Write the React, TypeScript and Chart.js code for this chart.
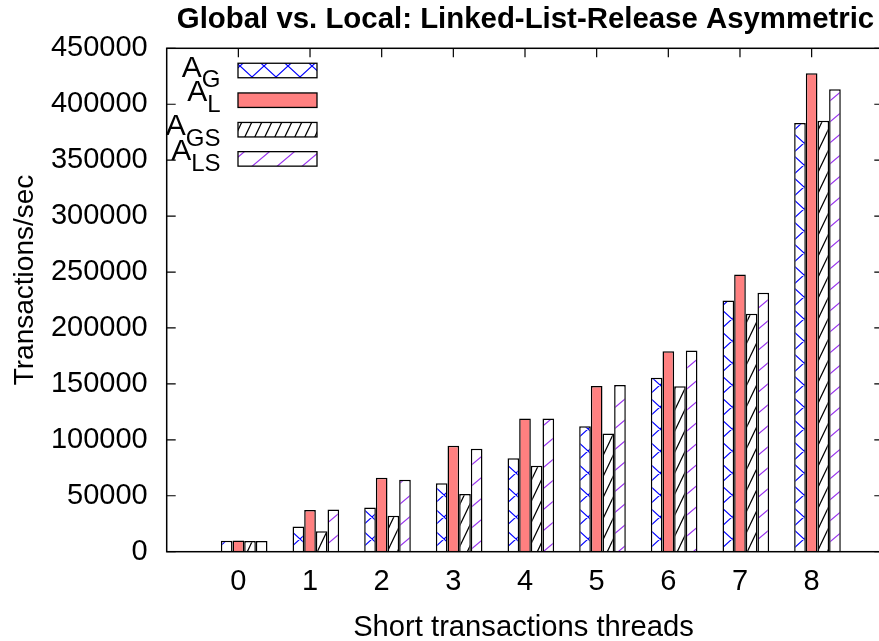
import React, { useEffect, useRef } from "react";
import { Chart, registerables } from "chart.js";

Chart.register(...registerables);

// ---- data ----
const threadLabels = ["0", "1", "2", "3", "4", "5", "6", "7", "8"];
const valuesAG = [9800, 22600, 39600, 61100, 83500, 112100, 155400, 224500, 383200];
const valuesAL = [10000, 37300, 66200, 94800, 119000, 148200, 179200, 247800, 427600];
const valuesAGS = [9500, 18200, 32200, 51600, 76900, 105600, 147900, 212600, 385300];
const valuesALS = [9500, 37800, 64400, 92100, 119000, 149100, 179800, 231400, 413300];
const yTickValues = [0, 50000, 100000, 150000, 200000, 250000, 300000, 350000, 400000, 450000];
const legendMain = ["A", "A", "A", "A"];
const legendSub = ["G", "L", "GS", "LS"];

const TITLE = "Global vs. Local: Linked-List-Release Asymmetric";
const X_TITLE = "Short transactions threads";
const Y_TITLE = "Transactions/sec";
const FONT = "'Liberation Sans', Arial, Helvetica, sans-serif";

function makeTile(w: number, h: number, color: string, lines: number[][]) {
  const c = document.createElement("canvas");
  c.width = w;
  c.height = h;
  const g = c.getContext("2d")!;
  g.fillStyle = "#ffffff";
  g.fillRect(0, 0, w, h);
  g.strokeStyle = color;
  g.lineWidth = 1.2;
  g.beginPath();
  for (const [x1, y1, x2, y2] of lines) {
    for (const dx of [-w, 0, w]) {
      for (const dy of [-h, 0, h]) {
        g.moveTo(x1 + dx, y1 + dy);
        g.lineTo(x2 + dx, y2 + dy);
      }
    }
  }
  g.stroke();
  return c;
}

export default function App() {
  const ref = useRef<HTMLCanvasElement | null>(null);

  useEffect(() => {
    const canvas = ref.current!;
    const ctx = canvas.getContext("2d")!;

    const pG = ctx.createPattern(
      makeTile(24, 22, "#0000ff", [
        [0, 0, 24, 22],
        [0, 22, 24, 0],
      ]),
      "repeat"
    )!;
    const pGS = ctx.createPattern(makeTile(10, 21, "#000000", [[0, 21, 10, 0]]), "repeat")!;
    const pLS = ctx.createPattern(makeTile(25, 21, "#9933ee", [[0, 21, 25, 0]]), "repeat")!;
    const fillL = "rgb(255,128,128)";
    const fills: (string | CanvasPattern)[] = [pG, fillL, pGS, pLS];

    const cats = ["", ...threadLabels, ""];
    const pad = (arr: (number | null)[]) => [null, ...arr, null];

    const gp = {
      id: "gnuplotDecor",
      beforeDatasetsDraw(chart: any) {
        const { ctx: c, chartArea: a, scales } = chart;
        const x = scales.x;
        const y = scales.y;
        c.save();
        c.strokeStyle = "#000";
        c.lineWidth = 1.2;
        c.beginPath();
        for (const v of yTickValues) {
          const py = y.getPixelForValue(v);
          c.moveTo(a.left, py);
          c.lineTo(a.left + 9, py);
          c.moveTo(a.right, py);
          c.lineTo(a.right - 9, py);
        }
        for (let i = 1; i <= threadLabels.length; i++) {
          const px = x.getPixelForValue(i);
          c.moveTo(px, a.top);
          c.lineTo(px, a.top + 9);
        }
        c.stroke();
        c.restore();
      },
      afterDatasetsDraw(chart: any) {
        const { ctx: c, chartArea: a } = chart;
        c.save();
        // border
        c.strokeStyle = "#000";
        c.lineWidth = 1.5;
        c.strokeRect(a.left, a.top, a.right - a.left, a.bottom - a.top);

        // legend
        const rowsC = [70.5, 100.2, 129.7, 158.9];
        const baseA = [76.5, 100.5, 135, 160];
        const baseS = [86.5, 112, 145.5, 171];
        for (let i = 0; i < 4; i++) {
          const bx = 238, bw = 79, bh = 14.5;
          const by = rowsC[i] - bh / 2;
          c.fillStyle = fills[i];
          c.fillRect(bx, by, bw, bh);
          c.strokeStyle = "#000";
          c.lineWidth = 1.3;
          c.strokeRect(bx, by, bw, bh);

          c.fillStyle = "#000";
          c.textBaseline = "alphabetic";
          c.textAlign = "left";
          c.font = `24px ${FONT}`;
          const sw = c.measureText(legendSub[i]).width;
          c.font = `30px ${FONT}`;
          const aw = c.measureText(legendMain[i]).width;
          const right = 220.5;
          c.fillText(legendMain[i], right - sw - aw, baseA[i]);
          c.font = `24px ${FONT}`;
          c.fillText(legendSub[i], right - sw, baseS[i]);
        }

        // titles
        c.fillStyle = "#000";
        c.textAlign = "center";
        c.textBaseline = "alphabetic";
        c.font = `bold 29.4px ${FONT}`;
        c.fillText(TITLE, 525.5, 28);
        c.font = `29.2px ${FONT}`;
        c.fillText(X_TITLE, 523.5, 636);
        c.save();
        c.translate(33, 280);
        c.rotate(-Math.PI / 2);
        c.font = `28px ${FONT}`;
        c.fillText(Y_TITLE, 0, 0);
        c.restore();
        c.restore();
      },
    };

    const spacer = threadLabels.map(() => null);

    const chart = new Chart(canvas, {
      type: "bar",
      data: {
        labels: cats,
        datasets: [
          { label: "", data: pad(spacer), backgroundColor: "rgba(0,0,0,0)", borderWidth: 0 },
          { label: "AG", data: pad(valuesAG), backgroundColor: pG as any, borderColor: "#000", borderWidth: 1.5 },
          { label: "AL", data: pad(valuesAL), backgroundColor: fillL, borderColor: "#000", borderWidth: 1.5 },
          { label: "AGS", data: pad(valuesAGS), backgroundColor: pGS as any, borderColor: "#000", borderWidth: 1.5 },
          { label: "ALS", data: pad(valuesALS), backgroundColor: pLS as any, borderColor: "#000", borderWidth: 1.5 },
        ] as any,
      },
      options: {
        responsive: false,
        animation: false,
        devicePixelRatio: 1,
        events: [],
        layout: { padding: { top: 48.3, right: 16.7, left: 0, bottom: 0 } },
        datasets: {
          bar: { categoryPercentage: 0.813, barPercentage: 1.0 },
        } as any,
        plugins: {
          legend: { display: false },
          title: { display: false },
          tooltip: { enabled: false },
        },
        scales: {
          x: {
            type: "category",
            offset: false,
            grid: { display: false, drawTicks: false },
            border: { display: false },
            ticks: {
              color: "#000",
              font: { family: FONT, size: 29 },
              padding: 13,
              autoSkip: false,
              maxRotation: 0,
              minRotation: 0,
            },
            afterFit: (s: any) => {
              s.height = 89.3;
            },
          },
          y: {
            type: "linear",
            min: 0,
            max: 450000,
            grid: { display: false, drawTicks: false },
            border: { display: false },
            ticks: {
              stepSize: 50000,
              color: "#000",
              font: { family: FONT, size: 29 },
              padding: 19,
              callback: (v: any) => String(v),
            },
            afterFit: (s: any) => {
              s.width = 166.7;
            },
          },
        },
      },
      plugins: [gp],
    });

    return () => chart.destroy();
  }, []);

  return (
    <div
      style={{
        position: "fixed",
        left: 0,
        top: 0,
        width: 879,
        height: 641,
        overflow: "hidden",
        background: "#fff",
      }}
    >
      <canvas ref={ref} width={900} height={641} style={{ width: 900, height: 641, display: "block" }} />
    </div>
  );
}
